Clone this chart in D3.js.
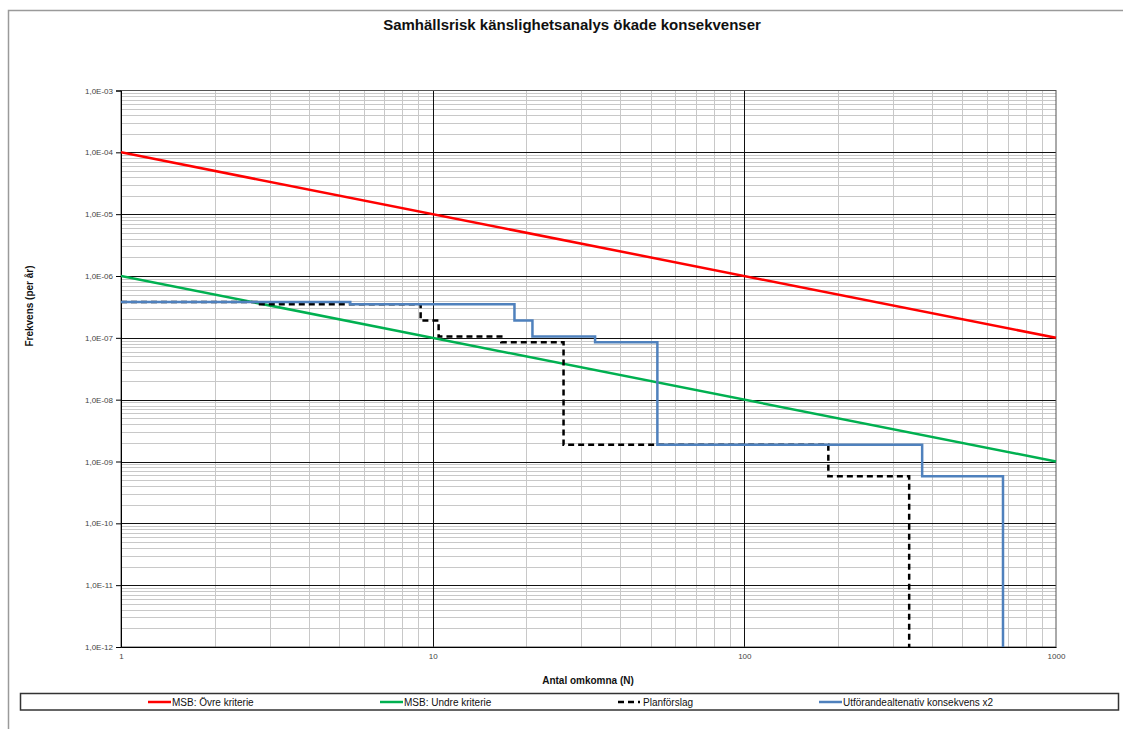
<!DOCTYPE html>
<html><head><meta charset="utf-8">
<script src="https://cdn.jsdelivr.net/npm/d3@7"></script>
<style>
html,body{margin:0;padding:0;background:#fff;}
svg{display:block;font-family:"Liberation Sans",Arial,sans-serif;}
</style></head>
<body>
<svg id="c" width="1123" height="729"></svg>
<script>
// ---- data ----
const titleText = "Samhällsrisk känslighetsanalys ökade konsekvenser";
const xTitle = "Antal omkomna (N)";
const yTitle = "Frekvens (per år)";
const xTickValues = [1, 10, 100, 1000];
const xTickLabels = ["1", "10", "100", "1000"];
const yTickValues = [1e-3,1e-4,1e-5,1e-6,1e-7,1e-8,1e-9,1e-10,1e-11,1e-12];
const yTickLabels = ["1,0E-03","1,0E-04","1,0E-05","1,0E-06","1,0E-07","1,0E-08","1,0E-09","1,0E-10","1,0E-11","1,0E-12"];

const seriesNames = ["MSB: Övre kriterie","MSB: Undre kriterie","Planförslag","Utförandealtenativ konsekvens x2"];

const ovreN = [1, 1000];
const ovreF = [1e-4, 1e-7];
const undreN = [1, 1000];
const undreF = [1e-6, 1e-9];
const planN = [1, 2.72, 9.15, 10.45, 16.6, 26.3, 186, 338];
const planF = [3.8e-7, 3.5e-7, 1.9e-7, 1.05e-7, 8.5e-8, 1.86e-9, 5.8e-10, 1e-12];
const utfN = [1, 5.44, 18.3, 20.9, 33.2, 52.6, 372, 676];
const utfF = [3.8e-7, 3.5e-7, 1.9e-7, 1.05e-7, 8.5e-8, 1.86e-9, 5.8e-10, 1e-12];

// ---- layout ----
const svg = d3.select("#c");
const L = 121, R = 1056, T = 90.5, B = 647;
const x = d3.scaleLog().domain([1, 1000]).range([L, R]);
const y = d3.scaleLog().domain([1e-12, 1e-3]).range([B, T]);

// outer chart frame
svg.append("path").attr("d","M8.5,729 V10.5 H1123").attr("fill","none").attr("stroke","#9a9a9a").attr("stroke-width",1.5);

// title
svg.append("text").attr("x",572).attr("y",30).attr("text-anchor","middle")
  .attr("font-size",15).attr("font-weight","bold").attr("fill","#111").text(titleText);

const g = svg.append("g");

// minor gridlines
const minorX = [];
for (let d = 1; d < 1000; d *= 10) for (let k = 2; k <= 9; k++) minorX.push(d * k);
const minorY = [];
for (let e = -12; e < -3; e++) for (let k = 2; k <= 9; k++) minorY.push(k * Math.pow(10, e));

g.selectAll(".mx").data(minorX).join("line")
  .attr("x1", d => Math.round(x(d)) + 0.5).attr("x2", d => Math.round(x(d)) + 0.5)
  .attr("y1", T).attr("y2", B).attr("stroke", "#c8c8c8").attr("stroke-width", 1);
g.selectAll(".my").data(minorY).join("line")
  .attr("y1", d => Math.round(y(d)) + 0.5).attr("y2", d => Math.round(y(d)) + 0.5)
  .attr("x1", L).attr("x2", R).attr("stroke", "#c8c8c8").attr("stroke-width", 1);

// major gridlines
g.selectAll(".Mx").data([10, 100]).join("line")
  .attr("x1", d => Math.round(x(d)) + 0.5).attr("x2", d => Math.round(x(d)) + 0.5)
  .attr("y1", T).attr("y2", B).attr("stroke", "#111").attr("stroke-width", 1);
g.selectAll(".My").data(yTickValues.slice(1, -1)).join("line")
  .attr("y1", d => Math.round(y(d)) + 0.5).attr("y2", d => Math.round(y(d)) + 0.5)
  .attr("x1", L).attr("x2", R).attr("stroke", "#111").attr("stroke-width", 1);

// plot border
svg.append("rect").attr("x", L).attr("y", T).attr("width", R - L).attr("height", B - T)
  .attr("fill", "none").attr("stroke", "#555").attr("stroke-width", 1);

// axes
const yAxis = d3.axisLeft(y).tickValues(yTickValues)
  .tickFormat((d, i) => yTickLabels[i]).tickSize(5).tickPadding(3);
const ya = svg.append("g").attr("transform", `translate(${L},0)`).call(yAxis);
ya.select(".domain").attr("stroke", "#000");
ya.selectAll("text").attr("font-size", 8).attr("fill", "#444").attr("font-family", "Liberation Sans, Arial, sans-serif");
ya.selectAll("line").attr("stroke", "#000");

const xAxis = d3.axisBottom(x).tickValues(xTickValues)
  .tickFormat((d, i) => xTickLabels[i]).tickSize(0).tickPadding(6);
const xa = svg.append("g").attr("transform", `translate(0,${B})`).call(xAxis);
xa.select(".domain").attr("stroke", "#000");
xa.selectAll("text").attr("font-size", 8).attr("fill", "#444").attr("font-family", "Liberation Sans, Arial, sans-serif");

// axis titles
svg.append("text").attr("x", 588).attr("y", 684).attr("text-anchor", "middle")
  .attr("font-size", 10).attr("font-weight", "bold").attr("fill", "#111").text(xTitle);
svg.append("text").attr("transform", "translate(33,306) rotate(-90)").attr("text-anchor", "middle")
  .attr("font-size", 10).attr("font-weight", "bold").attr("fill", "#111").text(yTitle);

// series
const toPts = (N, F) => N.map((n, i) => [n, F[i]]);
const straight = d3.line().x(d => x(d[0])).y(d => y(d[1]));
const step = d3.line().x(d => x(d[0])).y(d => y(d[1])).curve(d3.curveStepAfter);

svg.append("clipPath").attr("id", "pc").append("rect")
  .attr("x", L).attr("y", T - 2).attr("width", R - L + 2).attr("height", B - T + 2);
const s = svg.append("g").attr("clip-path", "url(#pc)");

const colors = ["#ff0000", "#00b050", "#000000", "#4f81bd"];
s.append("path").attr("d", straight(toPts(ovreN, ovreF))).attr("fill", "none").attr("stroke", colors[0]).attr("stroke-width", 2.5);
s.append("path").attr("d", straight(toPts(undreN, undreF))).attr("fill", "none").attr("stroke", colors[1]).attr("stroke-width", 2.5);
s.append("path").attr("d", step(toPts(planN, planF))).attr("fill", "none").attr("stroke", colors[2]).attr("stroke-width", 2.5).attr("stroke-dasharray", "6,4");
s.append("path").attr("d", step(toPts(utfN, utfF))).attr("fill", "none").attr("stroke", colors[3]).attr("stroke-width", 2.5);

// legend
svg.append("rect").attr("x", 20.5).attr("y", 693.5).attr("width", 1098).attr("height", 16.5)
  .attr("fill", "#fff").attr("stroke", "#333").attr("stroke-width", 1.5);
const legX = [148, 380, 617, 819];
const lg = svg.append("g");
seriesNames.forEach((name, i) => {
  const ln = lg.append("line").attr("x1", legX[i]).attr("x2", legX[i] + 23).attr("y1", 702).attr("y2", 702)
    .attr("stroke", colors[i]).attr("stroke-width", 2.5);
  if (i === 2) ln.attr("stroke-dasharray", "6,4").attr("x1", legX[i] + 1).attr("x2", legX[i] + 23);
  lg.append("text").attr("x", legX[i] + (i === 2 ? 26 : 24)).attr("y", 705.5).attr("font-size", 10).attr("fill", "#111").text(name);
});
</script>
</body></html>
